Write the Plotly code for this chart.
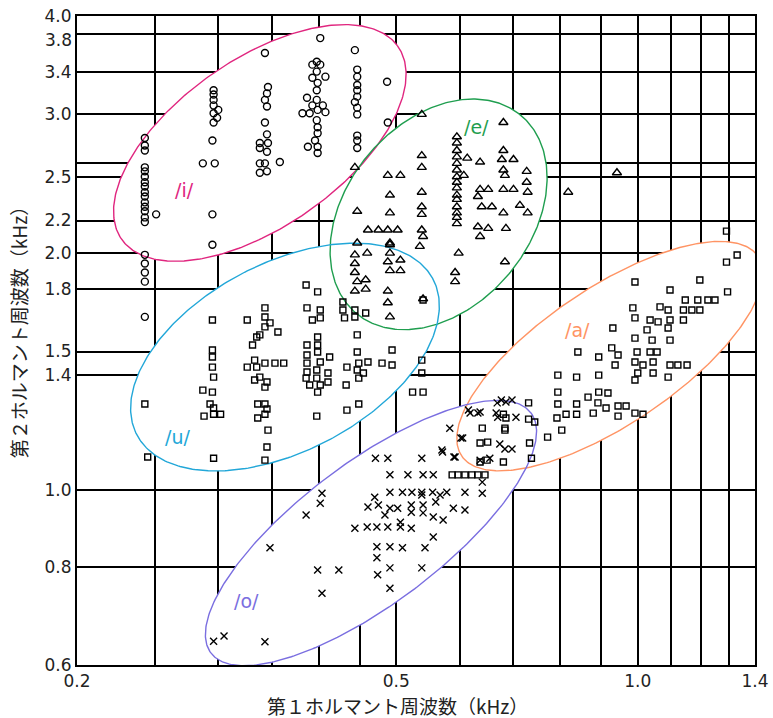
import numpy as np
import plotly.graph_objects as go

# ---- Formant data (kHz): F1 = first formant, F2 = second formant ----
I_F1 = [0.243] * 20 + [0.251] + [
    0.296, 0.296, 0.296, 0.296, 0.300, 0.296, 0.299, 0.296, 0.295, 0.287, 0.297, 0.295, 0.295,
    0.343, 0.346, 0.345, 0.343, 0.345, 0.343, 0.345, 0.338, 0.346, 0.338, 0.345, 0.338, 0.343, 0.358, 0.338, 0.345,
    0.402, 0.398, 0.393, 0.402, 0.398, 0.393, 0.408, 0.399, 0.398, 0.387, 0.398, 0.393, 0.405, 0.382, 0.390, 0.399,
    0.408, 0.398, 0.399, 0.399, 0.396, 0.388, 0.399, 0.399,
    0.444, 0.447, 0.447, 0.447, 0.447, 0.447, 0.444, 0.447, 0.447, 0.447, 0.447, 0.447,
    0.487, 0.488]
I_F2 = [2.80, 2.74, 2.70, 2.57, 2.54, 2.50, 2.46, 2.43, 2.39, 2.36, 2.32, 2.29, 2.26, 2.22, 2.19,
        1.99, 1.94, 1.89, 1.84, 1.66] + [2.24] + [
    3.22, 3.18, 3.13, 3.08, 3.04, 3.01, 2.97, 2.93, 2.78, 2.60, 2.60, 2.24, 2.05,
    3.59, 3.25, 3.19, 3.13, 3.07, 2.93, 2.83, 2.76, 2.76, 2.72, 2.69, 2.60, 2.60, 2.61, 2.53, 2.54,
    3.75, 3.50, 3.47, 3.47, 3.40, 3.34, 3.35, 3.29, 3.22, 3.15, 3.13, 3.08, 3.08, 3.01, 3.01, 3.04,
    3.02, 2.95, 2.89, 2.84, 2.78, 2.73, 2.73, 2.68,
    3.62, 3.42, 3.35, 3.27, 3.22, 3.16, 3.11, 3.06, 3.00, 2.82, 2.78, 2.72,
    3.30, 2.93]

E_F1 = [0.444, 0.488, 0.506, 0.538, 0.538, 0.538, 0.491, 0.538, 0.447, 0.491, 0.538, 0.538,
        0.461, 0.475, 0.488, 0.502, 0.538] + [0.595] * 15 + [
    0.613, 0.636, 0.607, 0.540, 0.535, 0.491, 0.491, 0.506, 0.491, 0.598, 0.592, 0.592, 0.488, 0.540,
    0.680, 0.680, 0.677, 0.700, 0.680, 0.683, 0.727, 0.727, 0.729, 0.636, 0.651, 0.632, 0.639, 0.658,
    0.680, 0.700, 0.713, 0.680, 0.729, 0.632, 0.651, 0.636, 0.685, 0.683, 0.819, 0.942,
    0.447, 0.444, 0.460, 0.444, 0.444, 0.458, 0.447, 0.458, 0.444, 0.491, 0.488, 0.506, 0.488, 0.491]
E_F2 = [2.57, 2.51, 2.51, 3.00, 2.66, 2.57, 2.37, 2.39, 2.26, 2.25, 2.29, 2.24,
        2.14, 2.14, 2.14, 2.14, 2.14] + [
    2.81, 2.76, 2.70, 2.65, 2.60, 2.55, 2.50, 2.46, 2.42, 2.37, 2.34, 2.29, 2.25, 2.22, 2.18] + [
    2.64, 2.61, 2.51, 2.10, 2.04, 2.05, 2.00, 1.96, 1.90, 2.00, 1.89, 1.84, 1.79, 1.75,
    2.93, 2.70, 2.63, 2.63, 2.55, 2.51, 2.54, 2.46, 2.39, 2.41, 2.41, 2.36, 2.29, 2.29,
    2.41, 2.41, 2.30, 2.25, 2.25, 2.16, 2.15, 2.10, 2.15, 1.95, 2.39, 2.53,
    2.06, 1.99, 2.00, 1.94, 1.89, 1.85, 1.84, 1.80, 1.79, 2.06, 1.95, 1.90, 1.73, 1.66]

U_F1 = [0.295, 0.295, 0.295, 0.295, 0.296, 0.287, 0.295, 0.293, 0.296, 0.288, 0.296, 0.302, 0.243, 0.245, 0.296,
        0.326, 0.335, 0.331, 0.333, 0.326, 0.335, 0.333, 0.336, 0.336,
        0.386, 0.399, 0.343, 0.343, 0.348, 0.343, 0.356, 0.338,
        0.387, 0.402, 0.393, 0.402, 0.429, 0.429, 0.444, 0.431, 0.444, 0.458, 0.447, 0.447,
        0.399, 0.387, 0.399, 0.387, 0.399, 0.413, 0.387, 0.402, 0.387, 0.398, 0.411, 0.386, 0.398, 0.411,
        0.390, 0.402, 0.399,
        0.434, 0.449, 0.461, 0.447, 0.455, 0.449, 0.433,
        0.494, 0.480, 0.494, 0.538, 0.538, 0.524, 0.540,
        0.398, 0.434, 0.449,
        0.343, 0.353, 0.362, 0.338, 0.345, 0.343, 0.343, 0.345, 0.343, 0.346, 0.345, 0.343,
        0.540]
U_F2 = [1.645, 1.507, 1.476, 1.433, 1.392, 1.340, 1.332, 1.287, 1.272, 1.242, 1.249, 1.249, 1.287, 1.102, 1.098,
        1.645, 1.565, 1.529, 1.463, 1.433, 1.433, 1.380, 1.287, 1.235,
        1.822, 1.786, 1.704, 1.659, 1.631, 1.612, 1.588, 1.575,
        1.704, 1.694, 1.645, 1.655, 1.734, 1.694, 1.694, 1.655, 1.659, 1.679, 1.575, 1.498,
        1.565, 1.529, 1.529, 1.485, 1.498, 1.476, 1.450, 1.455, 1.413, 1.421, 1.409, 1.388, 1.388, 1.372,
        1.360, 1.360, 1.332,
        1.433, 1.450, 1.455, 1.421, 1.409, 1.388, 1.360,
        1.507, 1.450, 1.442, 1.463, 1.409, 1.332, 1.332,
        1.242, 1.264, 1.287,
        1.450, 1.450, 1.450, 1.392, 1.372, 1.352, 1.287, 1.268, 1.249, 1.192, 1.135, 1.092,
        1.744]

A_F1 = [0.992, 1.195, 1.330, 1.290, 1.097, 1.294, 1.146, 1.188, 1.223, 1.248, 0.986, 0.992, 1.066, 1.091,
        1.140, 1.168, 1.195, 1.036, 1.060, 1.097, 1.140, 1.091, 1.027, 0.931, 0.992, 1.042, 1.097,
        0.842, 0.894, 0.928, 0.945, 0.937, 0.998, 1.036, 1.057, 0.992, 1.015, 1.045, 1.000, 1.045, 0.992,
        1.097, 1.122, 1.152, 1.091, 0.795, 0.839, 0.894, 0.795, 0.795, 0.839, 0.867, 0.894, 0.918, 0.892,
        0.913, 0.880, 0.839, 0.814, 0.945, 0.967, 0.945, 0.992, 1.015, 0.793, 0.804, 0.772, 0.731, 0.744,
        0.733, 0.737, 0.683, 0.680,
        0.640, 0.683, 0.636, 0.650, 0.636, 0.649, 0.680, 0.685, 0.731,
        0.587, 0.597, 0.609, 0.621, 0.632, 0.645, 1.290]
A_F2 = [1.838, 1.849, 1.989, 1.948, 1.796, 1.786, 1.744, 1.744, 1.744, 1.744, 1.704, 1.655, 1.709, 1.694,
        1.694, 1.694, 1.694, 1.645, 1.636, 1.645, 1.645, 1.607, 1.598, 1.607, 1.560, 1.551, 1.551,
        1.498, 1.476, 1.516, 1.485, 1.442, 1.498, 1.498, 1.498, 1.455, 1.442, 1.455, 1.409, 1.409, 1.380,
        1.442, 1.442, 1.442, 1.392, 1.400, 1.392, 1.400, 1.332, 1.287, 1.287, 1.313, 1.332, 1.329, 1.291,
        1.272, 1.253, 1.249, 1.249, 1.279, 1.279, 1.242, 1.253, 1.249, 1.235, 1.192, 1.168, 1.291, 1.221,
        1.148, 1.098, 1.192, 1.249,
        1.199, 1.199, 1.148, 1.151, 1.086, 1.092, 1.086, 1.235, 1.231,
        1.046, 1.046, 1.046, 1.046, 1.046, 1.046, 2.133]

O_F1 = [0.676, 0.697, 0.618, 0.632, 0.669, 0.705, 0.583, 0.605, 0.673, 0.683, 0.697, 0.570, 0.592, 0.654,
        0.471, 0.488, 0.538, 0.491, 0.517, 0.540, 0.556, 0.640, 0.491, 0.509, 0.523, 0.538, 0.555, 0.578,
        0.609, 0.640, 0.470, 0.538, 0.567, 0.461, 0.475, 0.491, 0.502, 0.522, 0.540, 0.560, 0.589, 0.609,
        0.484, 0.522, 0.540, 0.556, 0.572, 0.444, 0.460, 0.473, 0.488, 0.506, 0.522, 0.506, 0.556, 0.473,
        0.491, 0.509, 0.543, 0.473, 0.491, 0.538, 0.474, 0.491,
        0.404, 0.402, 0.386, 0.348, 0.399, 0.424, 0.404, 0.343, 0.296, 0.305,
        0.615, 0.636, 0.668, 0.685, 0.666, 0.602, 0.571, 0.590, 0.636]
O_F2 = [1.302, 1.302, 1.253, 1.253, 1.238, 1.238, 1.199, 1.165, 1.145, 1.128, 1.128, 1.125, 1.102, 1.098,
        1.098, 1.098, 1.098, 1.046, 1.046, 1.046, 1.046, 1.024, 0.994, 0.994, 0.994, 0.994, 0.994, 0.994,
        0.994, 0.991, 0.980, 0.986, 0.986, 0.952, 0.958, 0.949, 0.949, 0.958, 0.958, 0.966, 0.949, 0.944,
        0.930, 0.938, 0.936, 0.925, 0.917, 0.895, 0.898, 0.898, 0.898, 0.898, 0.895, 0.911, 0.872, 0.848,
        0.848, 0.845, 0.845, 0.821, 0.797, 0.797, 0.781, 0.751,
        0.991, 0.963, 0.930, 0.845, 0.792, 0.792, 0.740, 0.642, 0.643, 0.653,
        1.264, 1.257, 1.291, 1.294, 1.253, 1.165, 1.118, 1.102, 1.092]

# ---- Axis ticks ----
X_TICKS = [0.2, 0.25, 0.3, 0.35, 0.4, 0.45, 0.5, 0.6, 0.7, 0.8, 0.9, 1.0, 1.1, 1.2, 1.3, 1.4]
X_LABELS = ["0.2", "", "", "", "", "", "0.5", "", "", "", "", "1.0", "", "", "", "1.4"]
Y_TICKS = [0.6, 0.8, 1.0, 1.4, 1.5, 1.8, 2.0, 2.2, 2.5, 2.6, 3.0, 3.4, 3.8, 4.0]
Y_LABELS = ["0.6", "0.8", "1.0", "1.4", "1.5", "1.8", "2.0", "2.2", "2.5", "", "3.0", "3.4", "", "4.0"]
# label crowded against the top tick, drawn separately just below its grid line
Y_EXTRA_TICK = 3.8
Y_EXTRA_LABEL = "3.8"

# ---- Vowel regions: centre (kHz), semi-axes (decades), tilt (deg), label position (kHz) ----
REGIONS = [
    dict(name="/i/", color="#e0267f", f1=0.338, f2=2.76, a=0.2113, b=0.1057, tilt=35.7, lx=0.2726, ly=2.405),
    dict(name="/e/", color="#1f9e4f", f1=0.5646, f2=2.24, a=0.1623, b=0.1157, tilt=52.0, lx=0.630, ly=2.891),
    dict(name="/u/", color="#22a7d8", f1=0.3633, f2=1.476, a=0.2094, b=0.1187, tilt=28.6, lx=0.2672, ly=1.168),
    dict(name="/a/", color="#ff9464", f1=0.923, f2=1.480, a=0.2240, b=0.0862, tilt=34.6, lx=0.842, ly=1.598),
    dict(name="/o/", color="#7a6ee0", f1=0.4650, f2=0.8825, a=0.2510, b=0.0893, tilt=37.5, lx=0.3256, ly=0.724),
]


def ellipse(f1, f2, a, b, tilt, n=361):
    t = np.linspace(0, 2 * np.pi, n)
    th = np.radians(tilt)
    lx = np.log10(f1) + a * np.cos(t) * np.cos(th) - b * np.sin(t) * np.sin(th)
    ly = np.log10(f2) + a * np.cos(t) * np.sin(th) + b * np.sin(t) * np.cos(th)
    return 10 ** lx, 10 ** ly


fig = go.Figure()

# white interiors hide the grid inside each region
for r in REGIONS:
    ex, ey = ellipse(r["f1"], r["f2"], r["a"], r["b"], r["tilt"])
    fig.add_trace(go.Scatter(x=ex, y=ey, mode="lines", fill="toself", fillcolor="white",
                             line=dict(width=0), hoverinfo="skip", showlegend=False))
# coloured outlines
for r in REGIONS:
    ex, ey = ellipse(r["f1"], r["f2"], r["a"], r["b"], r["tilt"])
    fig.add_trace(go.Scatter(x=ex, y=ey, mode="lines", line=dict(color=r["color"], width=1.4),
                             hoverinfo="skip", showlegend=False))

SERIES = [
    ("/i/", I_F1, I_F2, "circle-open", 7),
    ("/e/", E_F1, E_F2, "triangle-up-open", 8),
    ("/u/", U_F1, U_F2, "square-open", 6),
    ("/a/", A_F1, A_F2, "square-open", 6),
    ("/o/", O_F1, O_F2, "x-thin-open", 7),
]
for name, xs, ys, sym, size in SERIES:
    fig.add_trace(go.Scatter(x=xs, y=ys, mode="markers", name=name, showlegend=False,
                             marker=dict(symbol=sym, size=size, color="black",
                                         line=dict(color="black", width=1.4))))

for r in REGIONS:
    fig.add_annotation(x=np.log10(r["lx"]), y=np.log10(r["ly"]), text=r["name"], showarrow=False,
                       font=dict(family="DejaVu Sans", size=19, color=r["color"]))

TICK_FONT = dict(family="DejaVu Sans", size=17, color="#222")
fig.add_annotation(xref="paper", yref="y", x=0, y=np.log10(Y_EXTRA_TICK), text=Y_EXTRA_LABEL,
                   showarrow=False, font=TICK_FONT, xanchor="right", yanchor="middle",
                   xshift=-3, yshift=-6)

TITLE_FONT = dict(family="Noto Sans CJK JP", size=19, color="#222")
fig.add_annotation(xref="paper", yref="paper", x=0.472, y=-0.062, text="第１ホルマント周波数（kHz）",
                   showarrow=False, font=TITLE_FONT, xanchor="center", yanchor="middle")
fig.add_annotation(xref="paper", yref="paper", x=-0.087, y=0.519, text="第２ホルマント周波数（kHz）",
                   showarrow=False, font=TITLE_FONT, textangle=-90, xanchor="center", yanchor="middle")

axis_common = dict(type="log", showline=True, linecolor="black", linewidth=2, mirror=True,
                   showgrid=True, gridcolor="black", gridwidth=2, zeroline=False, ticks="",
                   automargin=False, tickfont=TICK_FONT)
fig.update_xaxes(range=[np.log10(0.2), np.log10(1.4)], tickmode="array",
                 tickvals=X_TICKS, ticktext=X_LABELS, **axis_common)
fig.update_yaxes(range=[np.log10(0.6), np.log10(4.0)], tickmode="array",
                 tickvals=Y_TICKS, ticktext=Y_LABELS, **axis_common)

fig.update_layout(width=773, height=718, margin=dict(l=77, r=18, t=16, b=53),
                  paper_bgcolor="white", plot_bgcolor="white")

fig.write_html("out.html")
